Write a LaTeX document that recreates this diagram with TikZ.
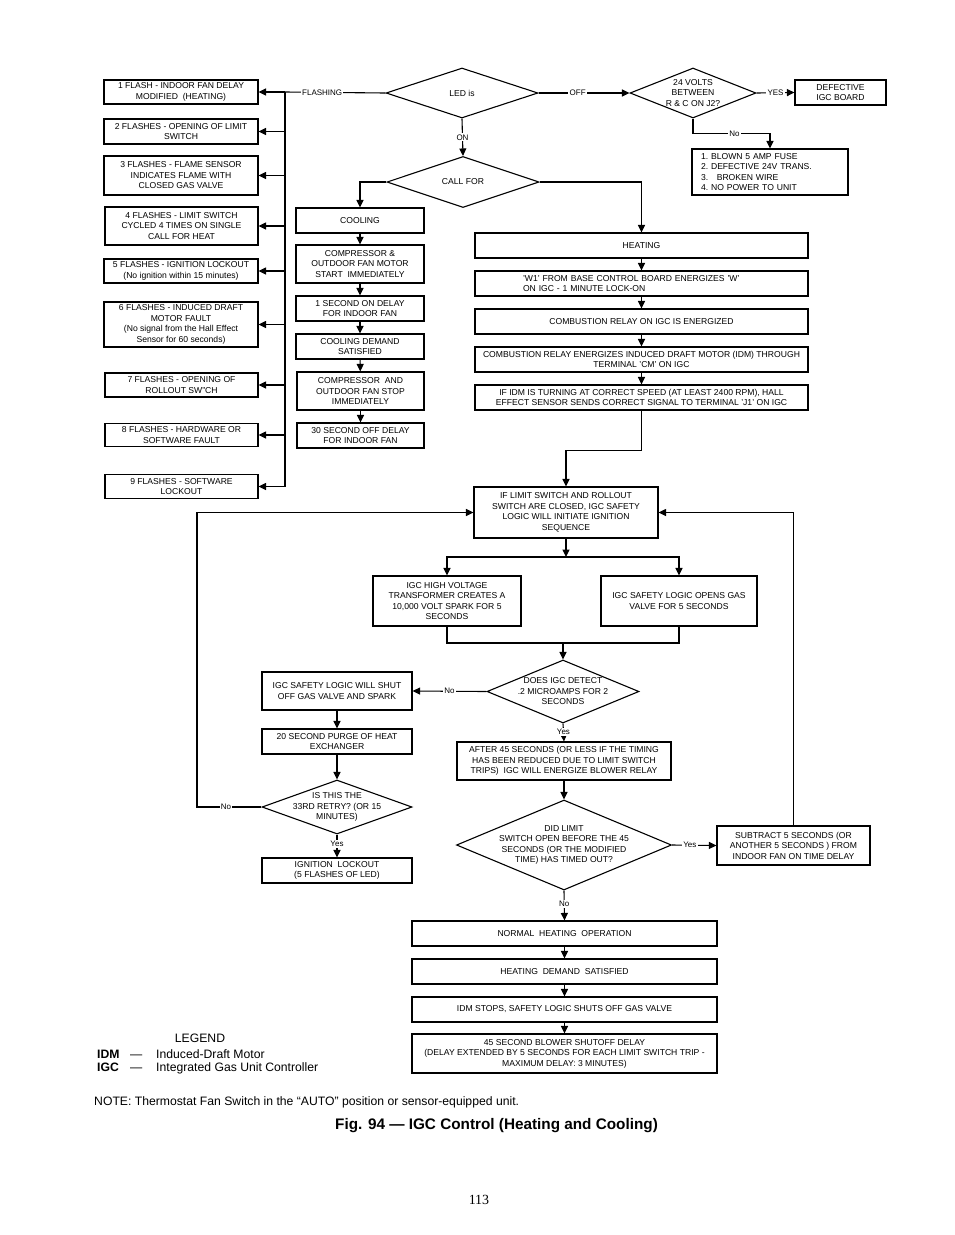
\documentclass[tikz,border=0pt]{standalone}
\usepackage{fontspec}
\setmainfont{Liberation Sans}
\newfontfamily\pagenumfont{Liberation Serif}
\usetikzlibrary{arrows.meta,shapes.geometric,calc}
\tikzset{
  bx/.style={draw, line width=1.1pt, align=center, inner sep=1pt, font=\fontsize{8.6}{10.5}\selectfont},
  dia/.style={draw, diamond, line width=1.1pt, inner sep=0pt},
  dtx/.style={align=center, inner sep=0pt, font=\fontsize{8.6}{10.5}\selectfont},
  ln/.style={line width=1.1pt},
  arr/.style={ln, -{Triangle[length=7.5pt,width=7pt]}},
  lbl/.style={fill=white, inner sep=1.2pt, font=\fontsize{8}{9}\selectfont},
  legtx/.style={inner sep=0pt, anchor=base west, font=\fontsize{12.2}{14}\selectfont},
}
\begin{document}
\begin{tikzpicture}[x=1pt,y=-1pt]
\useasboundingbox[fill=white] (0,0) rectangle (954,1235);

% ---------- left column (flash codes)
\node[bx, minimum width=154, minimum height=24] (b1) at (181,92) {1 FLASH - INDOOR FAN DELAY\\MODIFIED\ \ (HEATING)};
\node[bx, minimum width=154, minimum height=25] (b2) at (181,131.5) {2 FLASHES - OPENING OF LIMIT\\SWITCH};
\node[bx, minimum width=154, minimum height=39] (b3) at (181,175.5) {3 FLASHES - FLAME SENSOR\\INDICATES FLAME WITH\\CLOSED GAS VALVE};
\node[bx, minimum width=153, minimum height=38] (b4) at (181.5,226) {4 FLASHES - LIMIT SWITCH\\CYCLED 4 TIMES ON SINGLE\\CALL FOR HEAT};
\node[bx, minimum width=154, minimum height=24] (b5) at (181,271) {5 FLASHES - IGNITION LOCKOUT\\(No ignition within 15 minutes)};
\node[bx, minimum width=154, minimum height=45] (b6) at (181,324.5) {6 FLASHES - INDUCED DRAFT\\MOTOR FAULT\\(No signal from the Hall Effect\\Sensor for 60 seconds)};
\node[bx, minimum width=153, minimum height=24] (b7) at (181.5,385) {7 FLASHES - OPENING OF\\ROLLOUT SW"CH};
\node[bx, minimum width=153, minimum height=23] (b8) at (181.5,435) {8 FLASHES - HARDWARE OR\\SOFTWARE FAULT};
\node[bx, minimum width=153, minimum height=24] (b9) at (181.5,486.5) {9 FLASHES - SOFTWARE\\LOCKOUT};

% ---------- top decisions
\node[dia, minimum width=152, minimum height=50] (led) at (462,93) {};
\node[dtx] at (led.center) {LED is};
\node[dia, minimum width=152, minimum height=51] (call) at (463,182) {};
\node[dtx] at (call.center) {CALL FOR};
\node[dia, minimum width=126, minimum height=50] (v24) at (693,93) {};
\node[dtx] at (v24.center) {24 VOLTS\\BETWEEN\\R \& C ON J2?};
\node[bx, minimum width=91, minimum height=25] (def) at (840.5,92.5) {DEFECTIVE\\IGC BOARD};
\node[bx, minimum width=156, minimum height=46, text width=138, align=left] (fuse) at (770,172) {1.\ BLOWN 5 AMP FUSE\\2.\ DEFECTIVE 24V TRANS.\\3.\ \ \ BROKEN WIRE\\4.\ NO POWER TO UNIT};

% ---------- cooling column
\node[bx, minimum width=128, minimum height=25] (cool) at (360,220.5) {COOLING};
\node[bx, minimum width=128, minimum height=38] (c2) at (360,264) {COMPRESSOR \&\\OUTDOOR FAN MOTOR\\START\ \ IMMEDIATELY};
\node[bx, minimum width=128, minimum height=25] (c3) at (360,308.5) {1 SECOND ON DELAY\\FOR INDOOR FAN};
\node[bx, minimum width=128, minimum height=25] (c4) at (360,346.5) {COOLING DEMAND\\SATISFIED};
\node[bx, minimum width=127, minimum height=38] (c5) at (360.5,391) {COMPRESSOR\ \ AND\\OUTDOOR FAN STOP\\IMMEDIATELY};
\node[bx, minimum width=127, minimum height=25] (c6) at (360.5,435.5) {30 SECOND OFF DELAY\\FOR INDOOR FAN};

% ---------- heating column
\node[bx, minimum width=333, minimum height=25] (heat) at (641.5,245.5) {HEATING};
\node[bx, minimum width=333, minimum height=25, text width=237, align=left] (h2) at (641.5,283.5) {\mbox{'W1' FROM BASE CONTROL BOARD ENERGIZES 'W'}\\\mbox{ON IGC - 1 MINUTE LOCK-ON}};
\node[bx, minimum width=333, minimum height=25] (h3) at (641.5,321.5) {COMBUSTION RELAY ON IGC IS ENERGIZED};
\node[bx, minimum width=333, minimum height=25] (h4) at (641.5,359.5) {COMBUSTION RELAY ENERGIZES INDUCED DRAFT MOTOR (IDM) THROUGH\\TERMINAL 'CM' ON IGC};
\node[bx, minimum width=333, minimum height=25] (h5) at (641.5,397.5) {IF IDM IS TURNING AT CORRECT SPEED (AT LEAST 2400 RPM), HALL\\EFFECT SENSOR SENDS CORRECT SIGNAL TO TERMINAL 'J1' ON IGC};

% ---------- ignition sequence
\node[bx, minimum width=184, minimum height=51] (ign) at (566,512.5) {IF LIMIT SWITCH AND ROLLOUT\\SWITCH ARE CLOSED, IGC SAFETY\\LOGIC WILL INITIATE IGNITION\\SEQUENCE};
\node[bx, minimum width=148, minimum height=50] (hv) at (447,601) {IGC HIGH VOLTAGE\\TRANSFORMER CREATES A\\10,000 VOLT SPARK FOR 5\\SECONDS};
\node[bx, minimum width=156, minimum height=50] (gv) at (679,601) {IGC SAFETY LOGIC OPENS GAS\\VALVE FOR 5 SECONDS};
\node[dia, minimum width=152, minimum height=63] (det) at (563,691.5) {};
\node[dtx] at (det.center) {DOES IGC DETECT\\.2 MICROAMPS FOR 2\\SECONDS};
\node[bx, minimum width=150, minimum height=38] (shut) at (337,691) {IGC SAFETY LOGIC WILL SHUT\\OFF GAS VALVE AND SPARK};
\node[bx, minimum width=150, minimum height=25] (purge) at (337,741.5) {20 SECOND PURGE OF HEAT\\EXCHANGER};
\node[dia, minimum width=150, minimum height=54] (retry) at (337,807) {};
\node[dtx] at (retry.center) {IS THIS THE\\33RD RETRY? (OR 15\\MINUTES)};
\node[bx, minimum width=150, minimum height=25] (lock) at (337,870.5) {IGNITION\ \ LOCKOUT\\(5 FLASHES OF LED)};
\node[bx, minimum width=214, minimum height=38] (after) at (564,761) {AFTER 45 SECONDS (OR LESS IF THE TIMING\\HAS BEEN REDUCED DUE TO LIMIT SWITCH\\TRIPS)\ \ IGC WILL ENERGIZE BLOWER RELAY};
\node[dia, minimum width=215, minimum height=90] (did) at (564,845) {};
\node[dtx] at (did.center) {DID LIMIT\\SWITCH OPEN BEFORE THE 45\\SECONDS (OR THE MODIFIED\\TIME) HAS TIMED OUT?};
\node[bx, minimum width=153, minimum height=39] (sub) at (793.5,845.5) {SUBTRACT 5 SECONDS (OR\\ANOTHER 5 SECONDS ) FROM\\INDOOR FAN ON TIME DELAY};

% ---------- end of sequence
\node[bx, minimum width=305, minimum height=25] (normal) at (564.5,933.5) {NORMAL\ \ HEATING\ \ OPERATION};
\node[bx, minimum width=305, minimum height=25] (demand) at (564.5,971.5) {HEATING\ \ DEMAND\ \ SATISFIED};
\node[bx, minimum width=305, minimum height=25] (idm) at (564.5,1009.5) {IDM STOPS, SAFETY LOGIC SHUTS OFF GAS VALVE};
\node[bx, minimum width=305, minimum height=39] (blower) at (564.5,1053.5) {45 SECOND BLOWER SHUTOFF DELAY\\(DELAY EXTENDED BY 5 SECONDS FOR EACH LIMIT SWITCH TRIP -\\MAXIMUM DELAY: 3 MINUTES)};

% ---------- connectors: flash bus
\coordinate (bus) at (285,92);
\coordinate (busend) at (285,486.5);
\draw[ln] (led.west) -- node[lbl, pos=0.63]{FLASHING} (bus);
\draw[ln] (bus) -- (busend);
\foreach \b in {b1,b2,b3,b4,b5,b6,b7,b8,b9}
  \draw[arr] (bus |- \b.east) -- (\b.east);

% top right
\draw[arr] (led.east) -- node[lbl, pos=0.43]{OFF} (v24.west);
\draw[arr] (v24.east) -- node[lbl, pos=0.5]{YES} (def.west);
\draw[arr] (v24.south) -- ++(0,15) -| node[lbl, pos=0.27]{No} (fuse.north);
\draw[arr] (led.south) -- node[lbl, pos=0.5]{ON} (call.north);
\draw[arr] (call.west) -| (cool.north);
\draw[arr] (call.east) -| (heat.north);

% cooling chain
\draw[arr] (cool) -- (c2);
\draw[arr] (c2) -- (c3);
\draw[arr] (c3) -- (c4);
\draw[arr] (c4) -- (c5);
\draw[arr] (c5) -- (c6);

% heating chain
\draw[arr] (heat) -- (h2);
\draw[arr] (h2) -- (h3);
\draw[arr] (h3) -- (h4);
\draw[arr] (h4) -- (h5);
\draw[arr] (h5.south) -- ++(0,40) -| (ign.north);

% ignition split
\coordinate (sp) at (566,557);
\draw[arr] (ign.south) -- (sp);
\draw[arr] (sp) -| (hv.north);
\draw[arr] (sp) -| (gv.north);
\coordinate (jn) at (563,643);
\draw[ln] (hv.south) |- (jn) -| (gv.south);
\draw[arr] (jn) -- (det.north);

% detection
\draw[arr] (det.west) -- node[lbl]{No} (shut.east);
\draw[arr] (det.south) -- node[lbl, pos=0.45]{Yes} (after.north);
\draw[arr] (shut) -- (purge);
\draw[arr] (purge.south) -- (retry.north);
\coordinate (loopx) at (197,512.5);
\draw[arr] (retry.west) -- node[lbl, pos=0.55]{No} (retry.west -| loopx) -- (loopx) -- (ign.west);
\draw[arr] (retry.south) -- node[lbl, pos=0.4]{Yes} (lock.north);
\draw[arr] (after.south) -- (did.north);
\draw[arr] (did.east) -- node[lbl, pos=0.4]{Yes} (sub.west);
\draw[arr] (sub.north) |- (ign.east);
\draw[arr] (did.south) -- node[lbl, pos=0.45]{No} (normal.north);
\draw[arr] (normal) -- (demand);
\draw[arr] (demand) -- (idm);
\draw[arr] (idm) -- (blower);

% ---------- legend and captions
\node[inner sep=0pt, anchor=base, font=\fontsize{12.2}{14}\selectfont] (legend) at (200,1042) {LEGEND};
\node[legtx, font=\fontsize{12.2}{14}\selectfont\bfseries] (k1) at (97,1058) {IDM};
\node[legtx] (d1) at (130,1058) {—};
\node[legtx] (v1) at (156,1058) {Induced-Draft Motor};
\node[legtx, font=\fontsize{12.2}{14}\selectfont\bfseries] (k2) at (97,1071) {IGC};
\node[legtx] (d2) at (130,1071) {—};
\node[legtx] (v2) at (156,1071) {Integrated Gas Unit Controller};
\node[legtx] (note) at (94,1105) {NOTE: Thermostat Fan Switch in the “AUTO” position or sensor-equipped unit.};
\node[inner sep=0pt, anchor=base, font=\fontsize{15.3}{18}\bfseries] (fig) at (496.5,1129) {Fig. 94 — IGC Control (Heating and Cooling)};
\node[inner sep=0pt, anchor=base, font=\pagenumfont\fontsize{14}{16}\selectfont] (pg) at (479,1204) {113};
\end{tikzpicture}
\end{document}
